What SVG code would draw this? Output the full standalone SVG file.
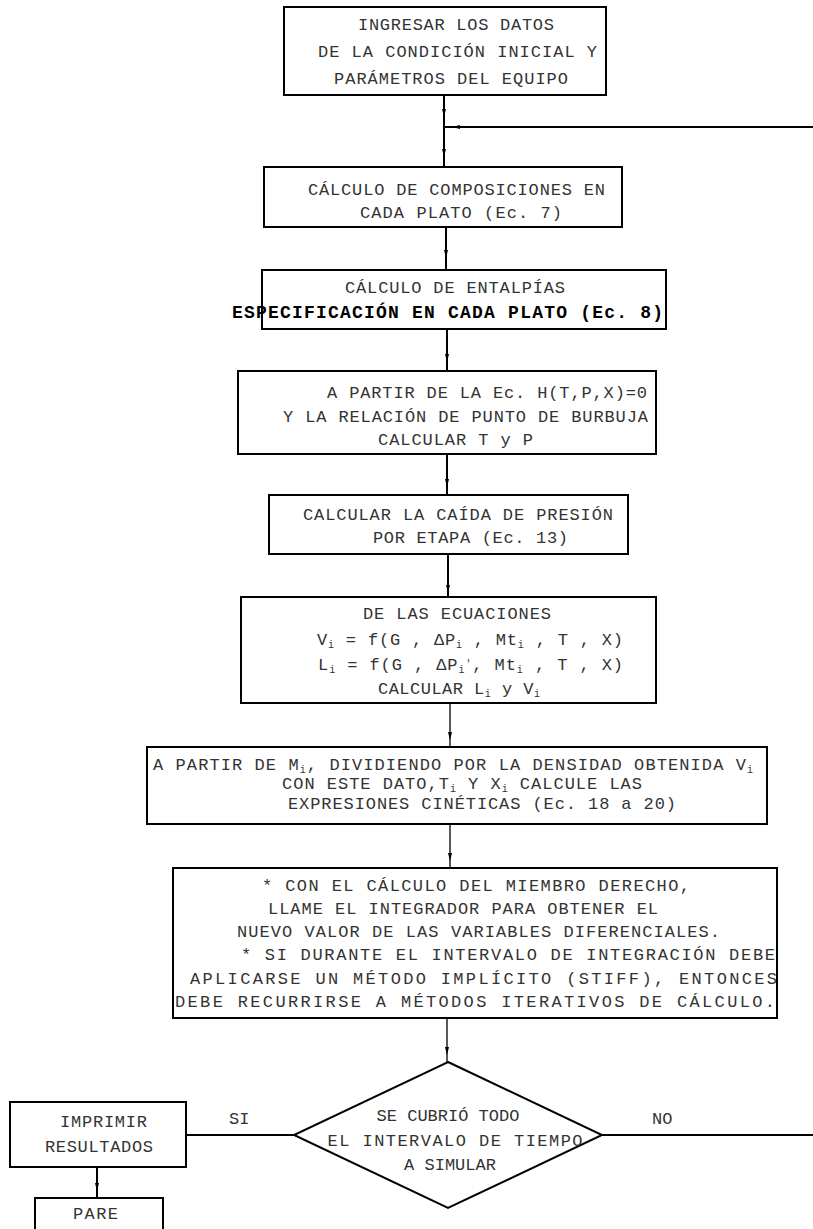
<svg xmlns="http://www.w3.org/2000/svg" width="813" height="1229" viewBox="0 0 813 1229">
<style>
.box{fill:#fff;stroke:#000;stroke-width:2}
.t{font-family:"Liberation Mono","Courier New",monospace;font-size:17px;fill:#333}
.b{font-weight:bold;fill:#000;font-size:18px}
.c{fill:none;stroke:#000;stroke-width:2}
.thin{stroke-width:1.3}
.s{font-size:10px}
</style>
<defs>
<marker id="ar" viewBox="0 0 8 4" refX="8" refY="2" markerWidth="8" markerHeight="4" markerUnits="userSpaceOnUse" orient="auto">
<path d="M0,0 L8,2 L0,4 z" fill="#000"/>
</marker>
</defs>
<rect width="813" height="1229" fill="#fff"/>
<g id="connectors">
<path class="c" d="M444,95 L444,117 L444,157 L444,167" marker-mid="url(#ar)"/>
<path class="c" d="M813,127 L452,127 L444,127" marker-mid="url(#ar)"/>
<path class="c" d="M446,227 L446,258 L446,270" marker-mid="url(#ar)"/>
<path class="c" d="M447,329 L447,362 L447,371" marker-mid="url(#ar)"/>
<path class="c" d="M447,454 L447,487 L447,495" marker-mid="url(#ar)"/>
<path class="c" d="M448,554 L448,593 L448,597" marker-mid="url(#ar)"/>
<path class="c thin" d="M450,703 L450,740 L450,747" marker-mid="url(#ar)"/>
<path class="c thin" d="M450,824 L450,861 L450,868" marker-mid="url(#ar)"/>
<path class="c thin" d="M447,1018 L447,1055 L447,1062" marker-mid="url(#ar)"/>
<path class="c" d="M294,1135 L186,1135"/>
<path class="c" d="M602,1135 L813,1135"/>
<path class="c" d="M97,1167 L97,1191 L97,1198" marker-mid="url(#ar)"/>
</g>
<g id="n1">
<rect class="box" x="284" y="7" width="322" height="88"/>
<text class="t" x="358" y="30" textLength="196">INGRESAR LOS DATOS</text>
<text class="t" x="318" y="57" textLength="279">DE LA CONDICIÓN INICIAL Y</text>
<text class="t" x="334" y="84" textLength="234">PARÁMETROS DEL EQUIPO</text>
</g>
<g id="n2">
<rect class="box" x="264" y="167" width="358" height="60"/>
<text class="t" x="308" y="195" textLength="297">CÁLCULO DE COMPOSICIONES EN</text>
<text class="t" x="360" y="218" textLength="202">CADA PLATO (Ec. 7)</text>
</g>
<g id="n3">
<rect class="box" x="262" y="270" width="404" height="59"/>
<text class="t" x="345" y="293" textLength="220">CÁLCULO DE ENTALPÍAS</text>
<text class="t b" x="232" y="318" textLength="431">ESPECIFICACIÓN EN CADA PLATO (Ec. 8)</text>
</g>
<g id="n4">
<rect class="box" x="238" y="371" width="418" height="83"/>
<text class="t" x="327" y="398" textLength="320">A PARTIR DE LA Ec. H(T,P,X)=0</text>
<text class="t" x="283" y="422" textLength="365">Y LA RELACIÓN DE PUNTO DE BURBUJA</text>
<text class="t" x="378" y="445" textLength="155">CALCULAR T y P</text>
</g>
<g id="n5">
<rect class="box" x="269" y="495" width="359" height="59"/>
<text class="t" x="303" y="520" textLength="310">CALCULAR LA CAÍDA DE PRESIÓN</text>
<text class="t" x="373" y="543" textLength="195">POR ETAPA (Ec. 13)</text>
</g>
<g id="n6">
<rect class="box" x="241" y="597" width="415" height="106"/>
<text class="t" x="363" y="619" textLength="188">DE LAS ECUACIONES</text>
<text class="t" x="317" y="645" textLength="306">V<tspan class="s" dy="3">i</tspan><tspan dy="-3"> = f(G , ΔP</tspan><tspan class="s" dy="3">i</tspan><tspan dy="-3"> , Mt</tspan><tspan class="s" dy="3">i</tspan><tspan dy="-3"> , T , X)</tspan></text>
<text class="t" x="318" y="670" textLength="305">L<tspan class="s" dy="3">i</tspan><tspan dy="-3"> = f(G , ΔP</tspan><tspan class="s" dy="3">i</tspan><tspan class="s" dy="-6">'</tspan><tspan dy="3">, Mt</tspan><tspan class="s" dy="3">i</tspan><tspan dy="-3"> , T , X)</tspan></text>
<text class="t" x="378" y="694" textLength="162">CALCULAR L<tspan class="s" dy="3">i</tspan><tspan dy="-3"> y V</tspan><tspan class="s" dy="3">i</tspan></text>
</g>
<g id="n7">
<rect class="box" x="147" y="747" width="620" height="77"/>
<text class="t" x="153" y="770" textLength="600">A PARTIR DE M<tspan class="s" dy="3">i</tspan><tspan dy="-3">, DIVIDIENDO POR LA DENSIDAD OBTENIDA V</tspan><tspan class="s" dy="3">i</tspan></text>
<text class="t" x="282" y="789" textLength="360">CON ESTE DATO,T<tspan class="s" dy="3">i</tspan><tspan dy="-3"> Y X</tspan><tspan class="s" dy="3">i</tspan><tspan dy="-3"> CALCULE LAS</tspan></text>
<text class="t" x="288" y="809" textLength="388">EXPRESIONES CINÉTICAS (Ec. 18 a 20)</text>
</g>
<g id="n8">
<rect class="box" x="173" y="868" width="604" height="150"/>
<text class="t" x="262" y="891" textLength="428">* CON EL CÁLCULO DEL MIEMBRO DERECHO,</text>
<text class="t" x="268" y="914" textLength="390">LLAME EL INTEGRADOR PARA OBTENER EL</text>
<text class="t" x="237" y="937" textLength="483">NUEVO VALOR DE LAS VARIABLES DIFERENCIALES.</text>
<text class="t" x="241" y="960" textLength="534">* SI DURANTE EL INTERVALO DE INTEGRACIÓN DEBE</text>
<text class="t" x="190" y="984" textLength="587">APLICARSE UN MÉTODO IMPLÍCITO (STIFF), ENTONCES</text>
<text class="t" x="175" y="1007" textLength="600">DEBE RECURRIRSE A MÉTODOS ITERATIVOS DE CÁLCULO.</text>
</g>
<g id="n9">
<polygon class="box" points="448,1062 602,1135 448,1208 294,1135"/>
<text class="t" x="448" y="1121" text-anchor="middle">SE CUBRIÓ TODO</text>
<text class="t" x="455" y="1146" text-anchor="middle" textLength="255">EL INTERVALO DE TIEMPO</text>
<text class="t" x="450" y="1170" text-anchor="middle">A SIMULAR</text>
</g>
<g id="n10">
<rect class="box" x="10" y="1102" width="176" height="65"/>
<text class="t" x="60" y="1127" textLength="87">IMPRIMIR</text>
<text class="t" x="45" y="1152" textLength="108">RESULTADOS</text>
</g>
<g id="n11">
<rect class="box" x="35" y="1198" width="128" height="42"/>
<text class="t" x="73" y="1219" textLength="45">PARE</text>
</g>
<g id="labels">
<text class="t" x="229" y="1124">SI</text>
<text class="t" x="652" y="1124">NO</text>
</g>
</svg>
